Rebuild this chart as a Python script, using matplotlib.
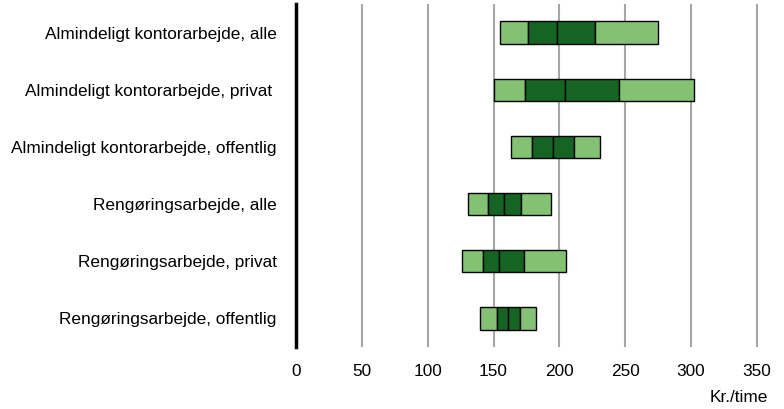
import matplotlib.pyplot as plt
import numpy as np

plt.rcParams['font.family'] = ['Liberation Sans', 'DejaVu Sans']

# Percentiles (kr./time)
categories = ['Almindeligt kontorarbejde, alle',
              'Almindeligt kontorarbejde, privat ',
              'Almindeligt kontorarbejde, offentlig',
              'Rengøringsarbejde, alle',
              'Rengøringsarbejde, privat',
              'Rengøringsarbejde, offentlig']
p10 = [155, 150, 163, 131, 126, 140]
p25 = [176, 174, 179, 146, 142, 153]
p50 = [198, 204, 195, 158, 154, 161]
p75 = [227, 245, 211, 171, 173, 170]
p90 = [275, 302, 231, 194, 205, 182]

light = '#83c273'
dark = '#156422'

fig = plt.figure(figsize=(7.84, 4.09), dpi=100)
ax = fig.add_axes([296 / 784, 62 / 409, 474 / 784, 343 / 409])

y = np.arange(len(categories))
h = 0.39
segments = [(p10, p25, light), (p25, p50, dark), (p50, p75, dark), (p75, p90, light)]
for lo, hi, col in segments:
    lo = np.array(lo)
    hi = np.array(hi)
    ax.barh(y, hi - lo, left=lo, height=h, color=col, edgecolor='black',
            linewidth=1.0, zorder=3)

ax.set_xlim(0, 360)
ax.set_ylim(len(categories) - 0.5, -0.5)
ax.set_xticks(range(0, 351, 50))
ax.set_yticks(y)
ax.set_yticklabels(categories, fontsize=12.4)
ax.tick_params(axis='both', length=0, labelsize=12.4)
ax.tick_params(axis='y', pad=14)
ax.tick_params(axis='x', pad=12)

ax.xaxis.grid(True, color='#a6a6a6', linewidth=1.5, zorder=0)
ax.set_axisbelow(True)
for s in ['top', 'right', 'bottom']:
    ax.spines[s].set_visible(False)
ax.spines['left'].set_linewidth(2.5)
ax.spines['left'].set_zorder(4)

fig.text(768 / 784, 1 - 397 / 409, 'Kr./time', ha='right', va='center', fontsize=12.4)

plt.savefig('out.png', dpi=100)
